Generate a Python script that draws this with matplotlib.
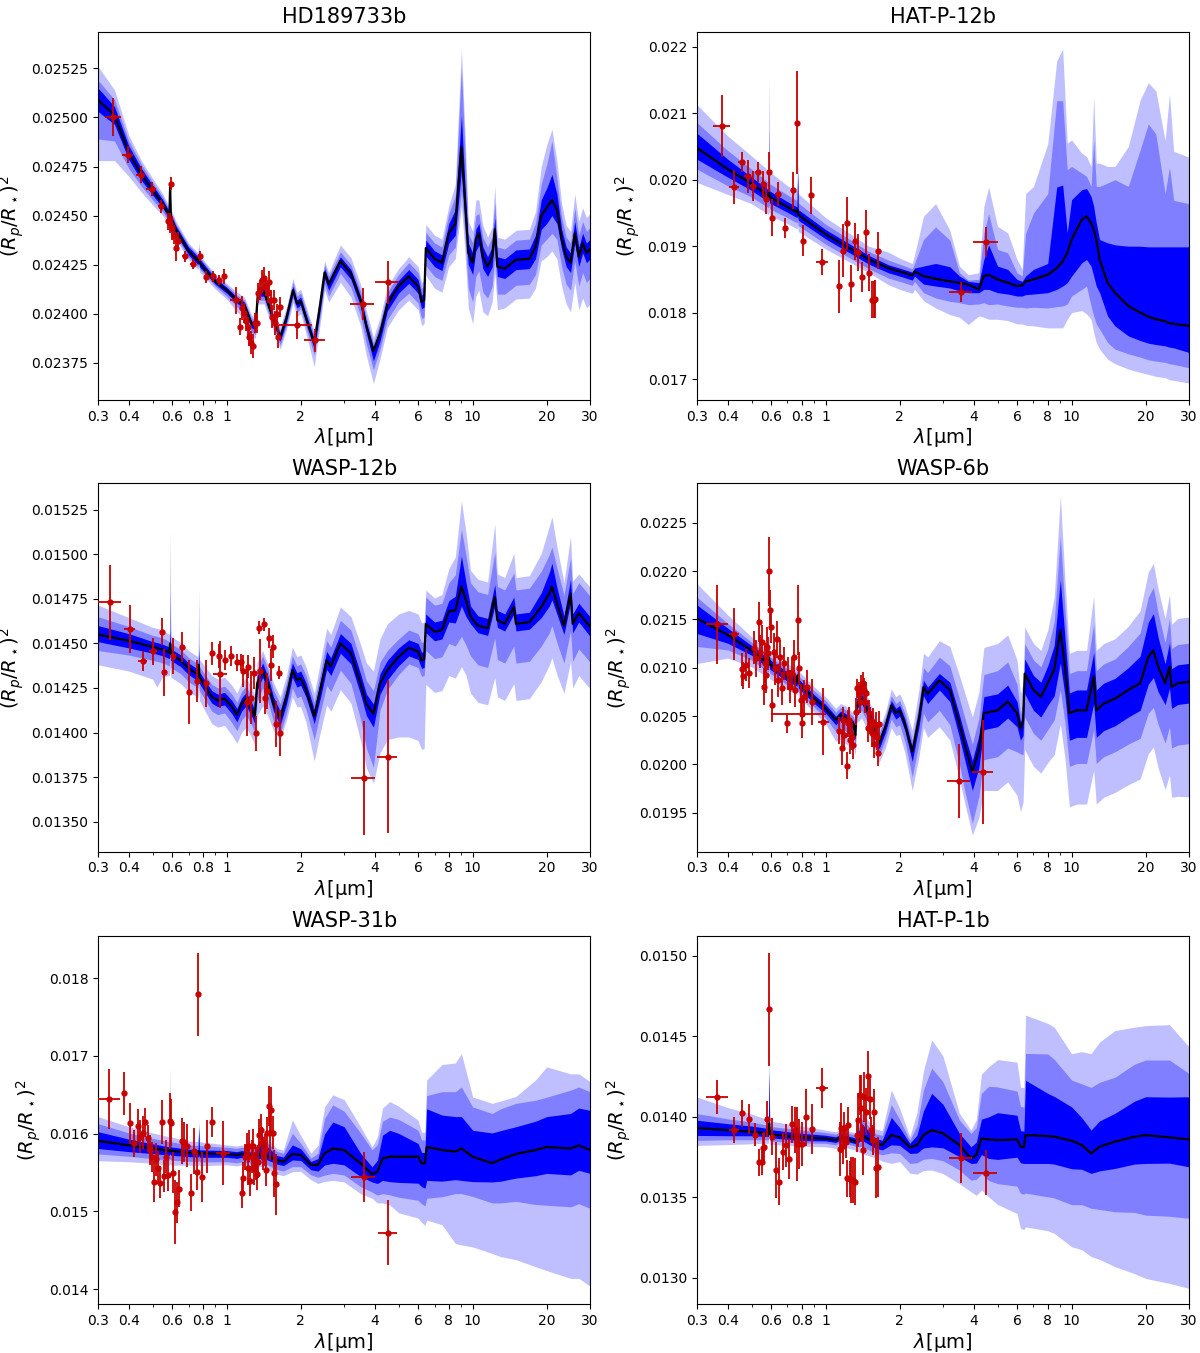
import numpy as np
import matplotlib
matplotlib.use("Agg")
import matplotlib.pyplot as plt
from matplotlib.ticker import FixedLocator, FixedFormatter, FormatStrFormatter, NullFormatter

# all depths are in units of 1e-5 ; band arrays are offsets above (hi) / below (lo) the median
# ---------------- HD189733b ----------------
HD_wl = [0.30, 0.35, 0.40, 0.45, 0.50, 0.55, 0.585, 0.589, 0.593, 0.62,
         0.70, 0.765, 0.77, 0.775, 0.90, 1.00, 1.10, 1.18, 1.26, 1.31,
         1.34, 1.42, 1.55, 1.65, 1.75, 1.86, 1.93, 2.00, 2.10, 2.27,
         2.40, 2.50, 2.60, 2.90, 3.20, 3.50, 3.70, 3.95, 4.20, 4.50,
         5.00, 5.50, 6.00, 6.20, 6.35, 6.45, 7.00, 7.50, 8.00, 8.50,
         9.00, 9.30, 9.60, 10.0, 10.3, 10.6, 11.0, 11.5, 12.0, 12.3,
         12.6, 13.5, 15.0, 17.0, 18.0, 19.0, 20.0, 21.0, 22.0, 23.0,
         24.0, 25.0, 26.0, 27.0, 28.0, 29.0, 30.0]
HD_med = [2509, 2501, 2482, 2471, 2463, 2456, 2450, 2465, 2449, 2443,
          2432, 2427, 2429, 2426, 2416.5, 2412, 2407, 2404.5, 2395, 2393.5,
          2411, 2411, 2397, 2388, 2398, 2412, 2405, 2406.5, 2398, 2385,
          2405, 2421, 2415, 2427, 2420.5, 2407, 2393.5, 2381, 2390, 2405,
          2414, 2419, 2414, 2406, 2407, 2433.5, 2428, 2426, 2441, 2446,
          2485, 2458, 2431, 2426, 2438, 2441, 2429, 2424, 2429, 2443,
          2424, 2423, 2427.5, 2428, 2434, 2450, 2454, 2458, 2453, 2438,
          2429, 2426, 2441, 2429, 2436, 2431, 2433]
HD_hi1 = [6, 4.5, 3.5, 3, 2.5, 2, 2, 2, 2, 2,
          2, 2, 2, 2, 1.5, 1.5, 1.5, 1.5, 1.5, 1.5,
          1.5, 2, 2, 2, 2, 2, 2, 2, 2, 2,
          2, 2, 2, 2, 2, 2, 2, 2, 2.5, 3,
          3, 3.5, 3.5, 3.5, 3.5, 4, 4, 4, 5, 7,
          16, 8, 5, 5, 5, 5, 5, 5, 5, 6,
          5, 5, 5, 5, 6, 8, 10, 13, 8, 5,
          5, 5, 6, 5, 5, 5, 5]
HD_hi2 = [10, 8, 6, 5, 4, 3.5, 3, 4, 3, 3,
          3, 3, 5, 3, 2.5, 2.5, 2.5, 2.5, 3, 3,
          3, 3, 3, 3.5, 3.5, 4, 4, 4, 4, 4,
          4, 4, 4, 4.5, 4.5, 4.5, 4.5, 4, 5, 6,
          6, 7, 7, 7, 7, 8, 8, 8, 10, 14,
          40, 25, 10, 10, 12, 10, 10, 10, 10, 14,
          10, 10, 10, 10, 12, 16, 22, 30, 16, 11,
          10, 10, 13, 11, 11, 11, 11]
HD_hi3 = [17, 13, 9, 7, 6, 5, 4.5, 8, 4.5, 4.5,
          4, 4, 8, 4, 3.5, 3.5, 4, 4, 4.5, 4.5,
          5, 5, 5, 5.5, 5.5, 6, 6, 6, 6, 6,
          6, 6, 6, 8, 8, 8, 8, 7, 8, 9,
          9, 10, 10, 10, 10, 12, 12, 12, 14, 20,
          50, 35, 16, 16, 20, 17, 16, 15, 15, 22,
          15, 15, 15, 15, 18, 25, 32, 36, 25, 18,
          16, 16, 20, 18, 18, 18, 18]
HD_lo1 = [6, 4.5, 3.5, 3, 2.5, 2, 2, 2, 2, 2,
          2, 2, 2, 2, 1.5, 1.5, 1.5, 2, 2, 2,
          2, 2, 2, 2, 2, 2, 2, 2, 2.5, 3,
          3, 3, 3, 3, 3, 3, 3.5, 5, 4, 3.5,
          3.5, 3.5, 3.5, 3.5, 3.5, 4, 4, 4, 5, 6,
          12, 10, 6, 6, 6, 6, 6, 5, 5, 5,
          5, 5, 5, 5, 6, 7, 8, 8, 7, 5,
          5, 5, 5, 5, 5, 5, 5]
HD_lo2 = [20, 13, 8, 6, 5, 4, 3.5, 3.5, 3.5, 3.5,
          3, 3, 3, 3, 2.5, 3, 3.5, 4, 4.5, 4,
          4, 4, 4, 4, 4, 4, 4, 4, 5, 6,
          6, 6, 6, 6.5, 7, 8, 9, 9.5, 8, 8,
          8, 8.5, 8.5, 8.5, 8.5, 9, 9, 9, 11, 12,
          22, 18, 18, 20, 19, 19, 18, 16, 15, 14,
          14, 13, 13, 13, 14, 15, 16, 17, 15, 14,
          14, 14, 14, 15, 15, 15, 15]
HD_lo3 = [31, 23, 12, 9, 7.5, 6, 5, 5, 5, 5,
          4.5, 4.5, 4.5, 4.5, 4, 4.5, 6, 7, 7, 6,
          6, 6, 6, 6, 6, 6.5, 6.5, 6.5, 8, 12,
          10, 9, 9, 11, 12, 13, 15, 16.5, 13, 12,
          12, 12, 12, 12, 12, 14, 15, 15, 17, 18,
          30, 26, 28, 31, 29, 29, 28, 25, 23, 22,
          22, 20, 20, 20, 21, 23, 25, 26, 25, 24,
          24, 25, 25, 27, 28, 28, 28]
HD_x = [0.576, 0.586, 0.592, 0.601, 0.611, 0.621, 0.633, 0.777, 1.134, 1.158,
        1.179, 1.194, 1.218, 1.233, 1.258, 1.28, 1.304, 1.329, 1.346, 1.372,
        1.397, 1.419, 1.442, 1.469, 1.488, 1.51, 1.534, 1.558, 1.577, 1.602,
        1.622, 1.648]
HD_y = [2447.1, 2446.3, 2466.2, 2443.7, 2440.3, 2433.5, 2436.9, 2429.6, 2393.5, 2402.9,
        2400.3, 2396.1, 2393.5, 2388.4, 2385.3, 2383.7, 2395.2, 2395.2, 2410.6, 2412.2,
        2417.3, 2418.0, 2413.9, 2410.6, 2416.0, 2407.1, 2398.6, 2407.1, 2395.2, 2400.0,
        2388.4, 2403.4]
HD_yerr = [4.2, 5, 3.4, 6, 5, 6.8, 5, 2.6, 4.3, 6,
           5, 5, 5, 5, 6, 6, 5, 5, 5, 5,
           5, 6, 5, 5, 6, 5, 6, 5, 6, 5,
           6, 5]
HD_bx = [0.346, 0.396, 0.447, 0.495, 0.543, 0.677, 0.728, 0.827, 0.877, 0.928,
         0.979, 1.088, 1.93, 2.29, 3.57, 4.51]
HD_bxerr = [0.025, 0.022, 0.02, 0.023, 0.015, 0.017, 0.02, 0.015, 0.015, 0.015,
            0.015, 0.06, 0.3, 0.23, 0.39, 0.5]
HD_by = [2500, 2481.1, 2470.9, 2463.6, 2454.7, 2429.2, 2425.5, 2418.7, 2419.0, 2417.0,
         2419.0, 2406.8, 2394.4, 2386.4, 2405.0, 2416.0]
HD_byerr = [9.7, 4.4, 4.4, 3.4, 3.4, 2.6, 2.6, 3, 2.6, 2.6,
            3.7, 6.8, 7, 6, 8, 11]

# ---------------- HAT-P-12b ----------------
HP12_wl = [0.30, 0.40, 0.50, 0.585, 0.589, 0.593, 0.70, 0.765, 0.77, 0.775,
           1.0, 1.5, 1.8, 2.0, 2.25, 2.3, 2.5, 2.8, 3.2, 3.5,
           3.8, 4.2, 4.4, 4.6, 5.0, 5.5, 6.0, 6.3, 6.5, 7.0,
           8.0, 8.7, 9.2, 9.6, 10.0, 11.0, 11.5, 12.0, 12.3, 12.6,
           13.0, 14.0, 15.0, 17.0, 19.0, 20.5, 22.0, 24.0, 25.0, 26.0,
           30.0]
HP12_med = [2048, 2016, 1994, 1976, 1980, 1974, 1959, 1951, 1955, 1947,
            1918, 1880, 1867, 1862, 1856, 1862, 1855, 1851, 1847, 1845,
            1842, 1835, 1855, 1857, 1850, 1845, 1840, 1841, 1847, 1850,
            1857, 1867, 1877, 1890, 1910, 1940, 1945, 1935, 1925, 1910,
            1880, 1845, 1830, 1810, 1800, 1794, 1790, 1787, 1784, 1783,
            1780]
HP12_hi1 = [22, 15, 10, 9, 30, 9, 8, 8, 55, 8,
            7, 6, 5, 5, 5, 5, 15, 23, 22, 10,
            5, 10, 25, 45, 20, 20, 10, 6, 8, 15,
            17, 122, 115, 30, 60, 45, 42, 40, 35, 25,
            30, 60, 72, 90, 100, 105, 109, 112, 115, 116,
            119]
HP12_hi2 = [38, 28, 22, 20, 96, 20, 18, 18, 65, 18,
            15, 12, 12, 11, 10, 12, 55, 78, 62, 15,
            7, 15, 65, 92, 45, 45, 20, 14, 72, 100,
            122, 252, 242, 125, 110, 70, 60, 55, 135, 80,
            110, 150, 170, 180, 245, 290, 279, 192, 235, 186,
            184]
HP12_hi3 = [65, 50, 42, 38, 174, 38, 32, 32, 75, 32,
            25, 20, 24, 20, 18, 25, 90, 113, 77, 25,
            15, 25, 105, 132, 80, 75, 40, 24, 132, 140,
            197, 312, 320, 165, 150, 100, 90, 85, 200, 115,
            145, 175, 190, 240, 320, 352, 344, 272, 345, 260,
            254]
HP12_lo1 = [17, 12, 10, 9, 9, 9, 8, 8, 8, 8,
            7, 7, 7, 7, 7, 7, 12, 11, 10, 12,
            12, 5, 20, 22, 20, 17, 15, 16, 20, 22,
            27, 32, 37, 45, 55, 65, 65, 65, 70, 70,
            50, 50, 50, 45, 42, 40, 38, 37, 36, 36,
            40]
HP12_lo2 = [32, 25, 20, 18, 18, 18, 16, 16, 16, 16,
            15, 14, 15, 15, 15, 15, 25, 29, 30, 30,
            30, 22, 40, 45, 37, 35, 32, 33, 40, 42,
            50, 58, 67, 77, 85, 105, 105, 125, 130, 127,
            105, 90, 85, 72, 67, 65, 63, 62, 61, 61,
            63]
HP12_lo3 = [52, 38, 30, 28, 28, 28, 25, 25, 25, 25,
            22, 20, 25, 27, 27, 27, 37, 44, 50, 52,
            60, 40, 62, 67, 60, 57, 57, 58, 66, 70,
            80, 90, 100, 100, 110, 137, 147, 145, 155, 155,
            135, 115, 107, 95, 90, 87, 86, 85, 85, 85,
            86]
HP12_x = [0.558, 0.570, 0.588, 0.605, 0.735, 0.767, 0.807, 1.134, 1.179, 1.226,
          1.27, 1.317, 1.36, 1.405, 1.457, 1.50, 1.543, 1.57, 1.59, 1.64]
HP12_y = [1993, 1971.4, 2011.6, 1942.7, 1984.4, 2086, 1908.5, 1839.7, 1893.5, 1934.2,
          1843.7, 1907.5, 1891, 1853.8, 1921.6, 1859.8, 1819.6, 1819.6, 1820.6, 1893.5]
HP12_yerr = [20, 23, 30, 28, 28, 78, 23, 40, 40, 40,
             28, 28, 28, 23, 33, 28, 28, 28, 28, 28]
HP12_bx = [0.378, 0.424, 0.456, 0.483, 0.508, 0.530, 0.639, 0.686, 0.873, 0.965,
           3.55, 4.48]
HP12_bxerr = [0.03, 0.02, 0.015, 0.015, 0.015, 0.015, 0.015, 0.015, 0.015, 0.055,
              0.37, 0.52]
HP12_by = [2080.9, 1989, 2027, 2005.5, 1990.5, 2011.6, 1979, 1927.6, 1976.4, 1876.4,
           1831.7, 1906]
HP12_byerr = [46, 25, 15, 25, 23, 15, 18, 15, 28, 20,
              15, 23]

# ---------------- WASP-12b ----------------
W12_wl = [0.30, 0.40, 0.50, 0.52, 0.55, 0.585, 0.589, 0.593, 0.65, 0.70,
          0.765, 0.77, 0.775, 0.87, 0.92, 0.98, 1.05, 1.10, 1.15, 1.20,
          1.27, 1.30, 1.33, 1.40, 1.47, 1.55, 1.65, 1.75, 1.85, 1.93,
          2.00, 2.10, 2.27, 2.40, 2.55, 2.65, 2.90, 3.20, 3.50, 3.70,
          3.95, 4.20, 4.50, 5.00, 5.50, 6.00, 6.20, 6.35, 6.45, 7.00,
          7.50, 8.00, 8.50, 9.00, 9.40, 9.80, 10.5, 11.5, 12.3, 12.6,
          13.5, 14.7, 15.0, 17.0, 19.0, 20.5, 21.0, 22.0, 23.5, 25.0,
          25.5, 27.0, 30.0]
W12_med = [1455, 1451.5, 1448, 1447.5, 1446.5, 1445, 1450, 1444, 1440.5, 1436,
           1432.5, 1438, 1431, 1420, 1418, 1419, 1414.5, 1410, 1416, 1419,
           1412.5, 1409, 1427.5, 1435, 1427.5, 1416, 1408, 1420, 1435, 1429.5,
           1430.5, 1424, 1409, 1424, 1440.5, 1437, 1450, 1444.5, 1427.5, 1416,
           1410.5, 1427.5, 1435, 1442.5, 1447.5, 1445.5, 1440.5, 1441, 1461, 1456.5,
           1457.5, 1468, 1468.5, 1482, 1474, 1465, 1460, 1458.5, 1476, 1463,
           1461, 1470.5, 1461, 1462, 1470.5, 1478, 1482, 1472.5, 1460, 1478,
           1461, 1467, 1459.5]
W12_hi1 = [5, 4, 3, 3, 3, 3, 7, 3, 3, 3,
           3, 8, 3, 3.5, 3.5, 3.5, 3.5, 3.5, 3.5, 3.5,
           3.5, 3.5, 4, 4, 4, 4, 4, 4, 4, 4,
           4, 4, 4, 4.5, 5, 5, 5.5, 5.5, 5.5, 5.5,
           5.5, 5.5, 5.5, 5, 4.5, 4.5, 4.5, 4.5, 5.5, 5.5,
           5.5, 6, 8, 17, 10, 6, 5.5, 5.5, 7, 5.5,
           5.5, 5.5, 5.5, 5.5, 8, 12, 13, 9, 5.5, 8,
           5.5, 5.5, 5.5]
W12_hi2 = [10, 8, 6.5, 6.5, 6.5, 6, 30, 6, 6, 6,
           6, 12, 6, 7, 7, 7, 7, 7, 7, 7,
           7, 7, 8, 8, 8, 8, 8, 8, 8, 8,
           8, 8, 8, 9, 11, 11, 13, 13, 13, 13,
           13, 12, 11, 10, 10, 10, 10, 10, 15, 15,
           15, 16, 20, 32, 25, 19, 19, 19, 25, 19,
           19, 19, 19, 19, 20, 22, 22, 20, 17, 20,
           17, 17, 17]
W12_hi3 = [16.5, 13, 11, 11, 11, 10, 63, 10, 10, 10,
           10, 42, 10, 12, 12, 12, 12, 12, 12, 12,
           12, 12, 12, 11, 11, 12, 12, 12, 13, 13,
           13, 13, 13, 15, 18, 18, 20.5, 20.5, 22, 23,
           24, 25, 26, 24, 21, 21, 21, 21, 19, 19,
           20, 24, 30, 48, 38, 26, 26, 26, 41, 26,
           26, 30, 26, 26, 30, 38, 39, 32, 24, 32,
           24, 22, 22]
W12_lo1 = [4, 4, 3.5, 3.5, 3.5, 3.5, 3.5, 3.5, 3.5, 3.5,
           3.5, 3.5, 3.5, 3.5, 3.5, 3.5, 4, 4, 4, 4,
           4, 4, 4, 4, 4, 4, 4, 4, 4, 4,
           4, 4, 4, 5, 5, 5, 5.5, 6, 6, 6.5,
           7.5, 6, 5.5, 5, 4.5, 4.5, 4.5, 4.5, 5, 5,
           5, 6, 7, 11, 9, 4, 4, 4, 5, 4,
           4, 4, 4, 4, 6, 7, 7.5, 6, 5, 5,
           5, 5, 5.5]
W12_lo2 = [9, 8, 7.5, 7.5, 7.5, 7.5, 7.5, 7.5, 7.5, 7.5,
           7.5, 7.5, 7.5, 8, 8, 8, 9, 9, 9, 9,
           9, 9, 10, 10, 10, 10, 9, 9, 10, 10,
           10, 11, 13, 13, 14, 14, 15, 17, 20, 25,
           30, 15, 11, 10, 9, 9, 9, 9, 15, 15,
           15, 18, 20, 28, 25, 22, 22, 22, 23, 22,
           22, 22, 22, 22, 22, 22, 22, 22, 21, 21,
           21, 20, 20]
W12_lo3 = [17, 17, 18, 22, 15, 13, 13, 13, 13, 13,
           13, 13, 13, 15, 15, 15, 16, 16, 16, 16,
           16, 16, 18, 20, 18, 15, 12, 13, 15, 15,
           16, 18, 25, 24, 25, 25, 26, 28, 32, 36,
           39, 39, 39, 45, 50, 50, 50, 50, 34, 34,
           34, 36, 38, 45, 42, 43, 43, 43, 45, 43,
           43, 43, 43, 43, 42, 40, 40, 40, 38, 38,
           36, 35, 35]
W12_x = [0.546, 0.555, 0.604, 0.656, 0.705, 0.757, 0.821, 0.868, 0.927, 0.982,
         1.044, 1.101, 1.14, 1.16, 1.22, 1.21, 1.26, 1.29, 1.31, 1.356,
         1.37, 1.42, 1.43, 1.46, 1.49, 1.52, 1.55, 1.58, 1.63, 1.64]
W12_y = [1456.5, 1433.7, 1443.1, 1448.1, 1422.5, 1428.9, 1427.6, 1444.4, 1442.9, 1440.6,
         1443.1, 1439.3, 1439.3, 1434.7, 1436.9, 1416.9, 1419.5, 1433.2, 1399.5, 1458.8,
         1434.7, 1460.7, 1419.5, 1423.4, 1453.2, 1437.8, 1448.1, 1404.6, 1433.5, 1399.9]
W12_yerr = [7.5, 13, 10, 8.4, 18, 12, 13, 6.5, 6.5, 5.6,
            5.6, 4.7, 4.7, 9, 6.5, 19, 15, 9, 10, 3.7,
            18, 3.7, 9, 10, 5.6, 9, 6.5, 13, 3.7, 13]
W12_bx = [0.334, 0.404, 0.455, 0.502, 0.94, 3.6, 4.51]
W12_bxerr = [0.038, 0.02, 0.02, 0.02, 0.06, 0.4, 0.41]
W12_by = [1473, 1458, 1440.3, 1445.5, 1432.6, 1374.5, 1386.4]
W12_byerr = [21, 13.5, 5.6, 7.5, 19, 32, 43]

# ---------------- WASP-6b ----------------
W6_wl = [0.30, 0.40, 0.50, 0.585, 0.589, 0.593, 0.70, 0.765, 0.77, 0.775,
         0.90, 1.00, 1.10, 1.15, 1.20, 1.30, 1.32, 1.34, 1.40, 1.50,
         1.65, 1.75, 1.85, 1.93, 2.00, 2.10, 2.25, 2.40, 2.50, 2.60,
         2.90, 3.20, 3.50, 3.70, 3.95, 4.20, 4.40, 5.00, 5.50, 6.00,
         6.20, 6.35, 6.45, 7.00, 7.50, 8.00, 8.50, 9.00, 9.40, 9.80,
         10.5, 11.5, 12.3, 12.6, 13.5, 15.0, 17.0, 19.0, 20.5, 21.5,
         22.5, 24.0, 25.0, 25.5, 27.0, 30.0]
W6_med = [2151, 2134, 2118, 2104.5, 2110, 2103.5, 2091, 2086, 2092, 2084,
          2068, 2058, 2046, 2051, 2049, 2041, 2030, 2063, 2068, 2053,
          2022, 2039, 2061, 2053, 2056, 2042, 2013, 2049, 2080, 2073,
          2087, 2077, 2042, 2018, 1992, 2015, 2053, 2056, 2065, 2053,
          2037, 2045, 2094, 2077, 2070, 2084, 2098, 2139, 2101, 2053,
          2056, 2056, 2091, 2056, 2063, 2068, 2077, 2084, 2111, 2118,
          2101, 2084, 2101, 2080, 2084, 2085.5]
W6_hi1 = [14, 7, 5, 5, 5, 5, 4.5, 4.5, 10, 4.5,
          4, 4, 4, 4, 4, 4, 4, 5, 5, 5,
          5, 5, 5, 5, 5, 5, 5, 6, 7, 7,
          7, 8, 9, 10, 12, 15, 17, 17, 17, 12,
          7, 9, 15, 15, 15, 18, 25, 52, 30, 21,
          21, 21, 25, 21, 21, 21, 23, 28, 36, 38,
          30, 20, 25, 19, 19, 19]
W6_hi2 = [22, 12, 8.6, 8, 15, 8, 8, 8, 15, 8,
          8, 8, 8, 8, 8, 8, 8, 10, 10, 10,
          10, 10, 10, 10, 10, 11, 12, 16, 20, 22,
          24, 25, 26, 28, 29, 33, 40, 41, 41, 30,
          15, 20, 31, 31, 31, 35, 50, 97, 60, 41,
          41, 41, 55, 41, 41, 41, 45, 52, 62, 65,
          55, 42, 50, 40, 40, 40]
W6_hi3 = [36, 20.7, 14, 13, 30, 13, 13, 13, 25, 13,
          12, 12, 12, 12, 12, 12, 12, 14, 14, 14,
          15, 15, 17, 17, 17, 19, 22, 30, 35, 38,
          41, 45, 50, 54, 57, 60, 68, 69, 69, 55,
          36, 40, 48, 48, 48, 55, 75, 139, 90, 62,
          62, 62, 83, 62, 62, 62, 66, 75, 88, 90,
          80, 67, 75, 65, 67, 67]
W6_lo1 = [15.5, 8.6, 5, 5, 5, 5, 5, 5, 5, 5,
          5, 5, 5, 5, 5, 5, 5, 5, 5, 5,
          6, 6, 6, 6, 6, 7, 10, 9, 9, 10,
          10, 12, 14, 16, 19, 18, 17, 17, 17, 14,
          12, 15, 21, 21, 21, 23, 27, 34, 30, 28,
          28, 28, 28, 28, 28, 28, 28, 28, 28, 28,
          26, 22, 22, 22, 22, 22]
W6_lo2 = [29, 15.5, 10, 9, 9, 9, 9, 9, 9, 9,
          9, 10, 12, 13, 14, 14, 12, 12, 12, 12,
          13, 13, 14, 14, 15, 18, 26, 26, 27, 29,
          31, 36, 42, 48, 53, 48, 48, 48, 48, 40,
          26, 35, 45, 45, 45, 48, 52, 62, 58, 55,
          55, 55, 55, 55, 55, 55, 56, 57, 58, 59,
          60, 62, 62, 63, 64, 64]
W6_lo3 = [46.6, 24, 17, 15, 15, 15, 14, 14, 14, 14,
          14, 16, 22, 25, 27, 25, 20, 20, 20, 20,
          20, 22, 23, 23, 25, 30, 40, 40, 42, 45,
          48, 52, 57, 61, 65, 70, 80, 83, 83, 85,
          86, 84, 79, 79, 79, 82, 88, 97, 95, 97,
          97, 97, 97, 97, 97, 97, 98, 99, 100, 100,
          105, 110, 112, 114, 117, 119]
W6_x = [0.459, 0.462, 0.474, 0.489, 0.510, 0.523, 0.537, 0.543, 0.554, 0.560,
        0.567, 0.572, 0.580, 0.585, 0.5905, 0.594, 0.600, 0.608, 0.615, 0.623,
        0.633, 0.641, 0.651, 0.666, 0.678, 0.694, 0.705, 0.719, 0.730, 0.742,
        0.751, 0.769, 0.780, 0.795, 0.805, 0.820, 0.837, 0.883, 1.137, 1.162,
        1.176, 1.191, 1.218, 1.229, 1.244, 1.26, 1.275, 1.296, 1.325, 1.346,
        1.367, 1.38, 1.393, 1.414, 1.432, 1.446, 1.464, 1.482, 1.501, 1.52,
        1.539, 1.558, 1.577, 1.597, 1.612, 1.633, 1.651]
W6_y = [2098.6, 2091.7, 2102.8, 2094.1, 2120.7, 2109.7, 2147.2, 2116.6, 2126.9, 2080.3,
        2104.5, 2092.4, 2121.7, 2114.8, 2200, 2159.7, 2142.4, 2061.4, 2116.6, 2099.3,
        2129.3, 2087.2, 2111.4, 2078.6, 2104.5, 2042.4, 2094.1, 2080.3, 2094.1, 2111.4,
        2076.9, 2149.3, 2099.3, 2066.5, 2042.4, 2070, 2080.3, 2064.8, 2034.8, 2016.6,
        2045.9, 2030.3, 1998.6, 2042.4, 2045.9, 2025.2, 2028.7, 2019.7, 2054.5, 2078.6,
        2073.5, 2064.8, 2080.3, 2083.8, 2076.9, 2064.8, 2073.5, 2037.2, 2052.8, 2045.9,
        2032.1, 2044.1, 2021, 2040.7, 2028.6, 2012.1, 2041.7]
W6_yerr = [17, 14, 17, 15.5, 17, 19, 20.7, 17, 17, 19,
           20.7, 19, 20.7, 17, 35.7, 20.7, 17, 17, 19, 17,
           19, 17, 17, 17, 17, 10, 17, 17, 17, 17,
           17, 36, 17, 17, 15, 17, 17, 24, 14, 17,
           14, 15.5, 14, 14, 14, 14, 14, 14, 14, 10,
           12, 12, 12, 12, 12, 12, 12, 14, 14, 14,
           14, 14, 14, 14, 14, 14, 14]
W6_bx = [0.363, 0.424, 0.979, 0.80, 3.49, 4.37]
W6_bxerr = [0.037, 0.02, 0.05, 0.2, 0.38, 0.43]
W6_by = [2144.8, 2134.8, 2044.1, 2052.1, 1982.8, 1992.4]
W6_byerr = [40.7, 27, 34.5, 12, 38, 54]

# ---------------- WASP-31b ----------------
W31_wl = [0.30, 0.40, 0.50, 0.585, 0.589, 0.593, 0.70, 0.765, 0.77, 0.775,
          1.00, 1.10, 1.15, 1.30, 1.40, 1.60, 1.70, 1.85, 2.00, 2.20,
          2.35, 2.50, 2.70, 3.00, 3.50, 3.90, 4.10, 4.30, 4.60, 5.00,
          6.00, 6.20, 6.40, 6.50, 7.50, 8.50, 9.00, 10.0, 12.0, 13.0,
          15.0, 18.0, 20.0, 25.0, 27.0, 30.0]
W31_med = [1591, 1585, 1581, 1578, 1580, 1578, 1575.6, 1575, 1577, 1574.7,
           1574, 1572.6, 1574, 1571.3, 1574, 1566, 1564, 1574, 1572.6, 1560,
           1560, 1574.7, 1581, 1579, 1562, 1548, 1551, 1568, 1570.4, 1570.4,
           1570.4, 1562, 1562, 1583, 1579, 1577, 1581, 1570.4, 1562, 1567,
           1574, 1579, 1583, 1581, 1585, 1579]
W31_hi1 = [11.6, 8, 6, 5, 35, 5, 4.5, 4.5, 30, 4.5,
           4.3, 4.3, 4.3, 4.3, 15, 6, 6, 11.6, 8, 4.3,
           8, 25, 34, 30, 13, 9.4, 15, 30, 34, 30,
           17, 14, 14, 49, 45, 45, 41, 34, 39, 37,
           35, 37, 39, 45, 48, 51]
W31_hi2 = [22, 16, 13, 11.6, 60, 11.6, 10, 10, 35, 10,
           8.6, 8.6, 8.6, 8.6, 20, 11, 11, 26.6, 15, 8.6,
           15, 45, 56, 50, 39, 31, 35, 48, 51, 48,
           34, 30, 30, 66, 75, 77, 79, 64, 64, 65,
           65, 64, 64, 75, 75, 75]
W31_hi3 = [31, 24, 20, 18, 105, 18, 15, 15, 40, 15,
           11.6, 11.6, 11.6, 11.6, 25, 15, 15, 43.7, 25, 15,
           25, 60, 69, 65, 47, 35, 45, 65, 71, 65,
           47, 40, 40, 86, 110, 114, 122, 77, 77, 75,
           74, 90, 103, 96, 92, 88]
W31_lo1 = [10, 8, 6.5, 5.6, 5.6, 5.6, 5, 5, 5, 5,
           4.3, 4.3, 4.3, 4.3, 5, 5, 5, 7.7, 7, 6.4,
           8, 15, 19, 19, 17, 10, 15, 28, 32, 33,
           34, 30, 32, 43, 40, 36, 41, 32, 24, 28,
           31, 33, 34, 34, 32, 30]
W31_lo2 = [17, 14, 13, 12, 12, 12, 11, 11, 11, 11,
           10, 10, 10, 10, 11, 12, 12, 16.3, 15, 12.9,
           16, 28, 32, 32, 30, 23, 30, 45, 49, 52,
           56, 52, 55, 66, 60, 54, 58, 51, 51, 56,
           61, 70, 75, 75, 75, 75]
W31_lo3 = [25.7, 21, 19, 18.4, 18.4, 18.4, 16, 16, 16, 16,
           14, 14, 14, 14, 16, 18, 18, 22.7, 21, 19.3,
           24, 36, 41, 41, 39, 31, 40, 57, 62, 72,
           79, 76, 80, 94, 96, 118, 124, 116, 116, 125,
           136, 150, 159, 167, 171, 175]
W31_x = [0.404, 0.42, 0.435, 0.446, 0.456, 0.467, 0.477, 0.488, 0.497, 0.507,
         0.518, 0.528, 0.537, 0.548, 0.558, 0.569, 0.576, 0.586, 0.595, 0.603,
         0.617, 0.629, 0.641, 0.657, 0.673, 0.692, 0.714, 0.737, 0.756, 0.766,
         0.795, 0.832, 0.875, 1.151, 1.169, 1.188, 1.206, 1.222, 1.237, 1.248,
         1.264, 1.28, 1.296, 1.312, 1.329, 1.346, 1.358, 1.375, 1.393, 1.41,
         1.428, 1.446, 1.464, 1.482, 1.501, 1.52, 1.539, 1.563, 1.587]
W31_y = [1613.3, 1587.6, 1610.3, 1596.1, 1601.3, 1614.6, 1594, 1579, 1570.4, 1538.3,
         1567, 1556.3, 1536.1, 1615, 1545.6, 1570.4, 1547, 1615.9, 1614.1, 1549.9,
         1499.3, 1511.7, 1529.3, 1590.6, 1589.7, 1584.6, 1524.1, 1577.7, 1551.1, 1779.2,
         1543.9, 1584.1, 1615, 1523.3, 1542.6, 1570.4, 1583.3, 1555.4, 1584.1, 1539.3,
         1570.4, 1584.6, 1555.4, 1561.9, 1548.1, 1564, 1598.3, 1604.7, 1587.6, 1574.7,
         1578.9, 1553.3, 1600.4, 1635.6, 1600.4, 1630.4, 1601.3, 1549, 1534.9]
W31_yerr = [26, 17, 21, 21, 21, 19, 17, 19, 19, 26,
            21, 21, 19, 28, 21, 21, 21, 36, 30, 26,
            41, 26, 24, 30, 26, 28, 24, 30, 24, 53.5,
            32, 34, 19, 19, 21, 17, 17, 21, 21, 19,
            21, 21, 21, 21, 21, 21, 21, 21, 21, 21,
            21, 21, 21, 26, 34, 30, 21, 30, 39]
W31_bx = [0.333, 0.384, 0.969, 3.6, 4.51]
W31_bxerr = [0.035, 0.01, 0.065, 0.39, 0.4]
W31_by = [1644.6, 1651.9, 1575.6, 1544.7, 1472.7]
W31_byerr = [38, 28, 41, 32, 42]

# ---------------- HAT-P-1b ----------------
HP1_wl = [0.30, 0.40, 0.50, 0.585, 0.589, 0.593, 0.80, 1.00, 1.10, 1.15,
          1.30, 1.33, 1.40, 1.60, 1.70, 1.85, 2.00, 2.20, 2.35, 2.50,
          2.70, 3.00, 3.50, 3.90, 4.10, 4.30, 4.60, 5.00, 6.00, 6.20,
          6.40, 6.50, 8.00, 8.50, 10.0, 11.0, 12.0, 13.0, 15.0, 18.0,
          20.0, 25.0, 30.0]
HP1_med = [1393, 1391.7, 1390.7, 1389.7, 1395.9, 1389, 1387.2, 1386.5, 1385.5, 1387.2,
           1385.1, 1384.5, 1388.6, 1383.4, 1382.4, 1388.6, 1387.2, 1381, 1382.4, 1388.6,
           1391.7, 1389.7, 1382.4, 1374.1, 1376.2, 1386.5, 1385.9, 1385.5, 1385.9, 1381.4,
           1381, 1388.6, 1388, 1387.6, 1385.1, 1382.4, 1377.2, 1381.4, 1384.5, 1387.6,
           1388.6, 1387.2, 1385.9]
HP1_hi1 = [4.8, 4, 3.5, 3, 31, 3, 2.5, 2, 2, 2,
           2, 2, 7.2, 3, 3, 11, 6, 2.5, 6, 15,
           22.8, 18, 7.2, 7.2, 8, 12, 14, 17, 15, 10,
           10, 34, 26.5, 25, 21, 17, 14.5, 16, 17.6, 22,
           23.8, 25, 26.5]
HP1_hi2 = [8.9, 7, 6, 5, 35, 5, 4.5, 3.7, 3.7, 3.7,
           3.7, 3.7, 10, 6, 6, 19, 11, 4.5, 12, 28,
           38.5, 32, 15.5, 15.5, 17, 28, 33, 33, 30, 25,
           25, 50.7, 51, 48, 37.7, 38, 41, 40, 40, 45,
           46.6, 48, 41]
HP1_hi3 = [19.3, 14, 11, 8.3, 41, 8.3, 7, 5.2, 5.2, 5.2,
           5.2, 5.2, 13.5, 9, 9, 28, 18, 6.6, 20, 40,
           56, 48, 19.7, 17.6, 22, 40, 45, 50, 48, 37,
           37, 74.5, 70, 68, 54, 58, 62, 65, 69, 68,
           68, 70, 57.5]
HP1_lo1 = [4.6, 3.5, 2.5, 2, 2, 2, 2, 1.5, 1.5, 1.5,
           1.5, 1.5, 3.1, 3, 3, 6, 5, 3.7, 5, 8,
           10.4, 9, 7.2, 3.1, 5, 10, 11.8, 12, 11, 10,
           10, 17.6, 17, 17, 17.4, 15, 12.4, 15, 16.6, 17,
           17.6, 16, 17]
HP1_lo2 = [7.7, 6, 5, 4, 4, 4, 3.5, 3, 3, 3,
           3, 3, 7, 6, 6, 11, 10, 10, 11, 15,
           17.6, 17, 15.5, 13.5, 15, 22, 25.5, 27, 29, 29,
           29, 36, 37.7, 38, 39.7, 37, 34, 39, 43.5, 47,
           49.7, 49, 49]
HP1_lo3 = [10.8, 9, 7.5, 6.2, 6.2, 6.2, 5.5, 5.2, 5.2, 5.5,
           5.5, 5.5, 11.4, 9, 10, 17.6, 15, 16, 18, 22,
           24.8, 25, 24, 20.7, 25, 32, 35.6, 40, 46, 50.7,
           51, 57, 58.8, 60, 65.8, 65, 64, 70, 77.6, 85,
           89, 90.7, 92.5]
HP1_x = [0.489, 0.517, 0.537, 0.5495, 0.556, 0.563, 0.576, 0.591, 0.608, 0.627,
         0.645, 0.669, 0.692, 0.712, 0.732, 0.751, 0.767, 0.782, 0.799, 0.834,
         0.877, 1.14, 1.158, 1.176, 1.191, 1.206, 1.222, 1.237, 1.252, 1.268,
         1.292, 1.316, 1.341, 1.358, 1.375, 1.397, 1.414, 1.437, 1.459, 1.482,
         1.51, 1.529, 1.553, 1.577, 1.602, 1.633]
HP1_y = [1398.6, 1388.8, 1371.8, 1372.1, 1380.5, 1381.4, 1398.6, 1466.7, 1387.6, 1366.9,
         1359.6, 1378.3, 1382.2, 1373.9, 1395.2, 1391.7, 1383.2, 1383, 1383, 1399.6,
         1392.1, 1379.9, 1392.8, 1382, 1392.8, 1384.5, 1361.7, 1394.8, 1361.3, 1360.7,
         1360.7, 1359.6, 1388.6, 1397.9, 1413.5, 1405.2, 1379.3, 1412.4, 1403.1, 1425.5,
         1410.8, 1391.7, 1385.5, 1402.7, 1367.9, 1369]
HP1_yerr = [9.3, 7.2, 8.3, 8.3, 9.3, 9.3, 11.4, 35, 11.4, 17.6,
            14.5, 11.4, 13.5, 12.4, 11.4, 14.5, 22.8, 15.5, 13.5, 17.6,
            15.5, 16.6, 15.5, 11.4, 10.4, 10.4, 11.4, 11.4, 11.4, 14.5,
            14.5, 14.5, 10.4, 16.6, 12.4, 20.7, 15.5, 15.5, 14.5, 15.5,
            12.4, 8.3, 9.3, 14.5, 18.6, 18.6]
HP1_bx = [0.363, 0.424, 0.459, 0.966, 3.55, 4.48]
HP1_bxerr = [0.037, 0.02, 0.01, 0.055, 0.39, 0.5]
HP1_by = [1412.4, 1391.7, 1402.1, 1417.6, 1374.5, 1365.2]
HP1_byerr = [10.4, 8.3, 8.3, 12.4, 15.5, 14]

XTICKS = [0.3, 0.4, 0.6, 0.8, 1, 2, 4, 6, 8, 10, 20, 30]
XLABELS = ['0.3', '0.4', '0.6', '0.8', '1', '2', '4', '6', '8', '10', '20', '30']
XMINOR = [0.5, 0.7, 0.9, 3, 5, 7, 9]

LIGHT = '#bfbfff'
MID = '#7f7fff'
DARK = '#0000ff'
RED = '#c80000'
S = 1e-5


def check(name, *cols):
    n = len(cols[0])
    for c in cols:
        if len(c) != n:
            raise ValueError('%s: length mismatch %d vs %d' % (name, n, len(c)))


def panel(ax, title, wl, med, hi1, hi2, hi3, lo1, lo2, lo3,
          x, y, yerr, bx, bxerr, by, byerr, ylim, yticks, fmt):
    check(title + ' model', wl, med, hi1, hi2, hi3, lo1, lo2, lo3)
    check(title + ' data', x, y, yerr)
    check(title + ' bins', bx, bxerr, by, byerr)
    wl = np.asarray(wl)
    med = np.asarray(med) * S
    for hi, lo, col in ((hi3, lo3, LIGHT), (hi2, lo2, MID), (hi1, lo1, DARK)):
        ax.fill_between(wl, med - np.asarray(lo) * S, med + np.asarray(hi) * S,
                        color=col, lw=0, zorder=1)
    ax.plot(wl, med, color='k', lw=1.6, zorder=2)
    ax.errorbar(x, np.asarray(y) * S, yerr=np.asarray(yerr) * S, fmt='o', color=RED,
                ms=3.5, elinewidth=1.3, capsize=0, zorder=3)
    ax.errorbar(bx, np.asarray(by) * S, xerr=bxerr, yerr=np.asarray(byerr) * S,
                fmt='o', color=RED, ms=3.5, elinewidth=1.3, capsize=0, zorder=3)

    ax.set_xscale('log')
    ax.set_xlim(0.3, 30)
    ax.xaxis.set_major_locator(FixedLocator(XTICKS))
    ax.xaxis.set_major_formatter(FixedFormatter(XLABELS))
    ax.xaxis.set_minor_locator(FixedLocator(XMINOR))
    ax.xaxis.set_minor_formatter(NullFormatter())
    ax.set_ylim(ylim[0] * S, ylim[1] * S)
    ax.yaxis.set_major_locator(FixedLocator([t * S for t in yticks]))
    ax.yaxis.set_major_formatter(FormatStrFormatter(fmt))
    ax.tick_params(labelsize=10)
    ax.set_title(title, fontsize=15)
    ax.set_xlabel(r'$\lambda$[μm]', fontsize=14, labelpad=2)
    ax.set_ylabel(r'$(R_p/R_\star)^2$', fontsize=14)


fig = plt.figure(figsize=(12, 13.53), dpi=100)
W, H = 0.41, 0.2722
LX = [0.0817, 0.5808]
BY = [0.7044, 0.3705, 0.0362]
axes = [[fig.add_axes([LX[c], BY[r], W, H]) for c in range(2)] for r in range(3)]

panel(axes[0][0], 'HD189733b', HD_wl, HD_med, HD_hi1, HD_hi2, HD_hi3, HD_lo1, HD_lo2, HD_lo3,
      HD_x, HD_y, HD_yerr, HD_bx, HD_bxerr, HD_by, HD_byerr,
      (2356.1, 2543.7), [2375, 2400, 2425, 2450, 2475, 2500, 2525], '%.5f')
panel(axes[0][1], 'HAT-P-12b', HP12_wl, HP12_med, HP12_hi1, HP12_hi2, HP12_hi3,
      HP12_lo1, HP12_lo2, HP12_lo3,
      HP12_x, HP12_y, HP12_yerr, HP12_bx, HP12_bxerr, HP12_by, HP12_byerr,
      (1668.5, 2223), [1700, 1800, 1900, 2000, 2100, 2200], '%.3f')
panel(axes[1][0], 'WASP-12b', W12_wl, W12_med, W12_hi1, W12_hi2, W12_hi3,
      W12_lo1, W12_lo2, W12_lo3,
      W12_x, W12_y, W12_yerr, W12_bx, W12_bxerr, W12_by, W12_byerr,
      (1333.1, 1539.8), [1350, 1375, 1400, 1425, 1450, 1475, 1500, 1525], '%.5f')
panel(axes[1][1], 'WASP-6b', W6_wl, W6_med, W6_hi1, W6_hi2, W6_hi3,
      W6_lo1, W6_lo2, W6_lo3,
      W6_x, W6_y, W6_yerr, W6_bx, W6_bxerr, W6_by, W6_byerr,
      (1909.7, 2290.7), [1950, 2000, 2050, 2100, 2150, 2200, 2250], '%.4f')
panel(axes[2][0], 'WASP-31b', W31_wl, W31_med, W31_hi1, W31_hi2, W31_hi3,
      W31_lo1, W31_lo2, W31_lo3,
      W31_x, W31_y, W31_yerr, W31_bx, W31_bxerr, W31_by, W31_byerr,
      (1381, 1854.6), [1400, 1500, 1600, 1700, 1800], '%.3f')
panel(axes[2][1], 'HAT-P-1b', HP1_wl, HP1_med, HP1_hi1, HP1_hi2, HP1_hi3,
      HP1_lo1, HP1_lo2, HP1_lo3,
      HP1_x, HP1_y, HP1_yerr, HP1_bx, HP1_bxerr, HP1_by, HP1_byerr,
      (1283.7, 1512.4), [1300, 1350, 1400, 1450, 1500], '%.4f')

fig.savefig('out.png', dpi=100)
